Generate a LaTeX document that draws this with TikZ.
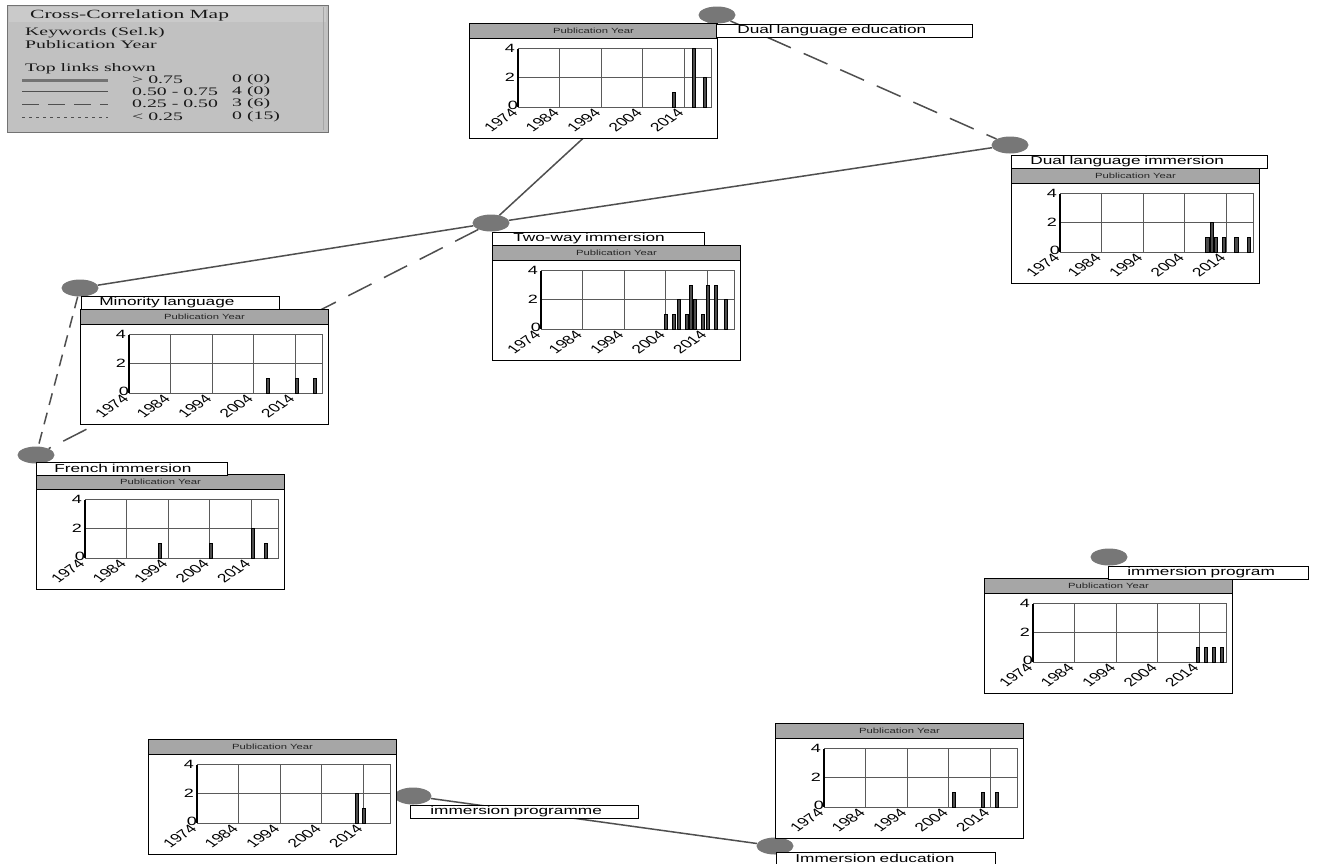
\documentclass[tikz,border=0pt]{standalone}
\usepackage{fontspec}
\usepackage{graphicx}
\usetikzlibrary{shapes.geometric}
\setmainfont{Liberation Serif}
\newfontfamily\lblfont[FakeStretch=1.5]{Liberation Sans}
\newfontfamily\hdrfont[FakeStretch=1.5]{Liberation Sans}
\newfontfamily\tkfont{Liberation Sans}
\newfontfamily\lgfont[FakeStretch=1.72]{Liberation Serif}
\definecolor{edgec}{HTML}{4F4F4F}
\definecolor{dotc}{HTML}{777777}
\definecolor{hdrc}{HTML}{A6A6A6}
\definecolor{lgbg}{HTML}{C1C1C1}
\definecolor{lgband}{HTML}{CACACA}
\definecolor{gridc}{HTML}{5A5A5A}
\tikzset{
  x=1pt, y=-1pt,
  dot/.style={ellipse, fill=dotc, minimum width=37pt, minimum height=17pt, inner sep=0pt},
  link/.style={draw=edgec, line width=1.5pt},
  dlink/.style={link, dash pattern=on 26pt off 14pt},
  chartbox/.style={draw=black, fill=white, line width=0.9pt, anchor=north west, minimum width=248pt, minimum height=115pt, inner sep=0pt},
  hdrbox/.style={draw=black, fill=hdrc, line width=0.9pt, anchor=north west, minimum width=248pt, minimum height=15pt, inner sep=0pt, text=black!85, font=\hdrfont\fontsize{7.5}{8}\selectfont},
  gridl/.style={draw=gridc, line width=0.8pt},
  axisl/.style={draw=black, line width=2pt},
  barst/.style={draw=black, fill=black!70, line width=0.6pt},
  ylab/.style={anchor=east, inner sep=1pt, font=\lblfont\fontsize{12}{12}\selectfont},
  xlab/.style={anchor=north east, inner sep=0pt, font=\tkfont\fontsize{12}{12}\selectfont},
  lbl/.style={draw=black, fill=white, line width=0.7pt, anchor=north west, minimum height=13pt, inner xsep=0pt, inner ysep=0pt, align=left, font=\lblfont\fontsize{11.5}{12}\selectfont},
  lgbox/.style={draw=black!55, fill=lgbg, line width=1.2pt, anchor=north west, minimum width=321pt, minimum height=127pt, inner sep=0pt},
  lgtxt/.style={anchor=west, inner sep=0pt, text=black!90, font=\lgfont\fontsize{11.5}{12}\selectfont},
  lgtitle/.style={anchor=west, inner sep=0pt, text=black!90, font=\lgfont\fontsize{12.5}{13}\selectfont},
}
\newcommand\yrchart[4]{%
\begin{scope}[shift={(#2,#3)}]
  \node[chartbox] (#1) at (0,0) {};
  \node[hdrbox] (#1h) at (0,0) {Publication Year};
  \draw[gridl] (49,54.75) -- (242,54.75);
  \foreach \k in {1,...,4} \draw[gridl] ({49+41.5*\k},25.5) -- ({49+41.5*\k},84);
  \draw[gridl] (49,25.5) -- (242,25.5) -- (242,84) -- (49,84);
  \foreach \yr/\v in {#4} \draw[barst] ({49+\yr*4.15-1.6},84) rectangle ++(3.2,{-\v*14.625});
  \draw[axisl] (49,25.5) -- (49,84);
  \node[ylab] (#1y4) at (47,25) {4};
  \node[ylab] (#1y2) at (47,54) {2};
  \node[ylab] (#1y0) at (50,82) {0};
  \foreach \t [count=\i from 0] in {1974,1984,1994,2004,2014}
    \node[xlab] (#1x\i) at ({49+41.5*\i+1},84.5) {\scalebox{1.45}[1]{\rotatebox{45}{\t}}};
\end{scope}}
\begin{document}
\begin{tikzpicture}
\useasboundingbox (0,0) rectangle (1317,863);
\fill[white] (0,0) rectangle (1317,863);
% legend
\node[lgbox] (legend) at (7,5) {};
\fill[lgband] (9,7) rectangle (326,22);
\draw[black!35, line width=0.8pt] (323,7) -- (323,130);
\node[lgtitle] (lgtitle) at (30,15) {Cross-Correlation Map};
\node[lgtxt] (lgkw) at (25,33) {Keywords (Sel.k)};
\node[lgtxt] (lgpy) at (25,45) {Publication Year};
\node[lgtxt] (lgtop) at (25,69) {Top links shown};
\draw[black!55, line width=3pt] (22,80) -- (108,80);
\draw[edgec, line width=1pt] (22,91) -- (108,91);
\draw[edgec, line width=1pt, dash pattern=on 17pt off 9pt] (22,104) -- (108,104);
\draw[edgec, line width=1pt, dash pattern=on 3pt off 4pt] (22,117) -- (108,117);
\node[lgtxt] (r1) at (132,80) {> 0.75};
\node[lgtxt] (r2) at (132,92) {0.50 - 0.75};
\node[lgtxt] (r3) at (132,104) {0.25 - 0.50};
\node[lgtxt] (r4) at (132,117) {< 0.25};
\node[lgtxt] (c1) at (232,80) {0 (0)};
\node[lgtxt] (c2) at (232,92) {4 (0)};
\node[lgtxt] (c3) at (232,104) {3 (6)};
\node[lgtxt] (c4) at (232,117) {0 (15)};
% keyword dots
\node[dot] (dle) at (717,15) {};
\node[dot] (dli) at (1010,145) {};
\node[dot] (twi) at (491,223) {};
\node[dot] (mil) at (80,288) {};
\node[dot] (fri) at (36,455) {};
\node[dot] (ipg) at (1109,557) {};
\node[dot] (ipe) at (413,796) {};
\node[dot] (ied) at (775,846) {};
% links
\draw[dlink] (dle) -- (dli);
\draw[link] (dle) -- (twi);
\draw[link] (dli) -- (twi);
\draw[link] (twi) -- (mil);
\draw[dlink] (twi) -- (fri);
\draw[link, dash pattern=on 12pt off 8pt] (mil) -- (fri);
\draw[link] (ipe) -- (ied);
% charts
\yrchart{chdle}{469}{23}{37.6/1,42.4/4,45.1/2}
\yrchart{chdli}{1011}{168}{35.5/1,36.5/2,37.5/1,39.5/1,42.5/1,45.5/1}
\yrchart{chtwi}{492}{245}{30/1,32/1,33.2/2,35.2/1,36.1/3,37.1/2,39/1,40.1/3,42.1/3,44.5/2}
\yrchart{chmil}{80}{309}{33.5/1,40.5/1,44.8/1}
\yrchart{chfri}{36}{474}{18.1/1,30.4/1,40.5/2,43.6/1}
\yrchart{chipg}{984}{578}{39.8/1,41.7/1,43.6/1,45.5/1}
\yrchart{chipe}{148}{739}{38.6/2,40.2/1}
\yrchart{chied}{775}{723}{31.3/1,38.3/1,41.7/1}
% labels
\node[lbl, text width=256pt] (ldle) at (716,24) {\hspace*{21pt}Dual language education};
\node[lbl, text width=256pt] (ldli) at (1011,155) {\hspace*{19pt}Dual language immersion};
\node[lbl, text width=212pt] (ltwi) at (492,232) {\hspace*{21pt}Two-way immersion};
\node[lbl, text width=198pt] (lmil) at (81,296) {\hspace*{18pt}Minority language};
\node[lbl, text width=191pt] (lfri) at (36,462) {\hspace*{18pt}French immersion};
\node[lbl, text width=200pt] (lipg) at (1108,566) {\hspace*{19pt}immersion program};
\node[lbl, text width=228pt] (lipe) at (410,805) {\hspace*{20pt}immersion programme};
\node[lbl, text width=219pt] (lied) at (776,852) {\hspace*{19pt}Immersion education};
\end{tikzpicture}
\end{document}
